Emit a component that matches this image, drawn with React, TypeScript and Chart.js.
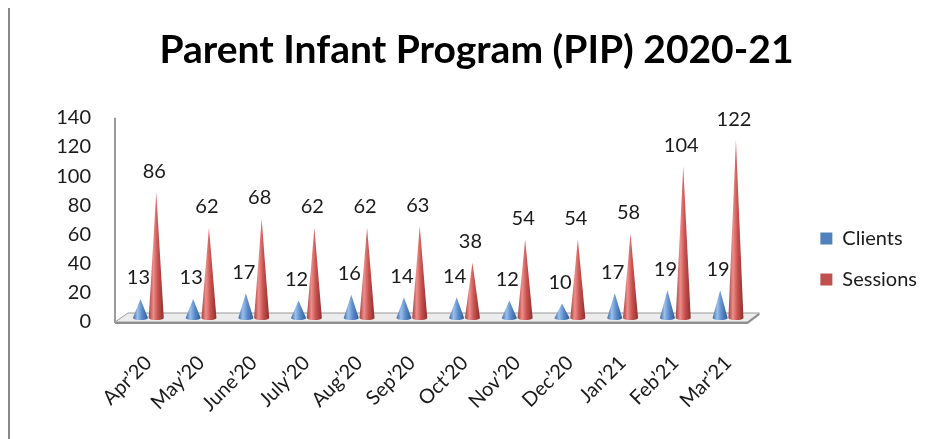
import React, { useEffect, useRef } from "react";
import { Chart, registerables } from "chart.js";

Chart.register(...registerables);

const TITLE = "Parent Infant Program (PIP) 2020-21";
const categories = ["Apr’20", "May’20", "June’20", "July’20", "Aug’20", "Sep’20", "Oct’20", "Nov’20", "Dec’20", "Jan’21", "Feb’21", "Mar’21"];
const clients = [13, 13, 17, 12, 16, 14, 14, 12, 10, 17, 19, 19];
const sessions = [86, 62, 68, 62, 62, 63, 38, 54, 54, 58, 104, 122];
const yTicks = [0, 20, 40, 60, 80, 100, 120, 140];

const FONT = "Lato, 'Noto Sans', sans-serif";
const TEXT = "#1a1a1a";

const coneStops: Record<number, string[]> = {
  0: ["#3d6aa3", "#9cc0ec", "#5b8ccb", "#2f5b93"],
  1: ["#a6403d", "#ee8f8c", "#c9524f", "#8c2f2d"],
};

const conePlugin = {
  id: "cones",
  beforeDatasetsDraw(chart: any) {
    const { ctx, chartArea } = chart;
    const ys = chart.scales.y;
    const L = chartArea.left;
    const R = chartArea.right;
    const yb = ys.getPixelForValue(0);
    const yt = ys.getPixelForValue(140);
    ctx.save();
    ctx.beginPath();
    ctx.moveTo(L - 7, yb + 4);
    ctx.lineTo(L + 6, yb - 5);
    ctx.lineTo(R + 5, yb - 5);
    ctx.lineTo(R - 7, yb + 4);
    ctx.closePath();
    ctx.fillStyle = "#ececec";
    ctx.fill();
    ctx.lineWidth = 1;
    ctx.strokeStyle = "#9a9a9a";
    ctx.stroke();
    ctx.beginPath();
    ctx.moveTo(L - 7, yb + 5);
    ctx.lineTo(R - 7, yb + 5);
    ctx.lineTo(R + 5, yb - 4);
    ctx.lineWidth = 2;
    ctx.strokeStyle = "#8e8e8e";
    ctx.stroke();
    ctx.beginPath();
    ctx.moveTo(L - 7, yb + 5);
    ctx.lineTo(L - 7, yt + 4);
    ctx.lineWidth = 2;
    ctx.strokeStyle = "#9a9a9a";
    ctx.stroke();
    ctx.restore();
  },
  beforeDatasetDraw() {
    return false;
  },
  afterDatasetsDraw(chart: any) {
    const { ctx } = chart;
    chart.data.datasets.forEach((ds: any, di: number) => {
      const meta = chart.getDatasetMeta(di);
      if (meta.hidden) return;
      meta.data.forEach((el: any, i: number) => {
        const { x, y, base, width } = el.getProps(["x", "y", "base", "width"], true);
        const w = width;
        const g = ctx.createLinearGradient(x - w / 2, 0, x + w / 2, 0);
        const st = coneStops[di];
        g.addColorStop(0, st[0]);
        g.addColorStop(0.3, st[1]);
        g.addColorStop(0.6, st[2]);
        g.addColorStop(1, st[3]);
        ctx.save();
        ctx.beginPath();
        ctx.moveTo(x - w / 2, base);
        ctx.lineTo(x, y);
        ctx.lineTo(x + w / 2, base);
        ctx.ellipse(x, base, w / 2, 2, 0, 0, Math.PI, false);
        ctx.closePath();
        ctx.fillStyle = g;
        ctx.fill();
        ctx.restore();
        ctx.save();
        ctx.font = "20px " + FONT;
        ctx.fillStyle = TEXT;
        ctx.textAlign = "center";
        ctx.textBaseline = "middle";
        ctx.fillText(String(ds.data[i]), x - 2, y - 21);
        ctx.restore();
      });
    });
  },
};

export default function App() {
  const ref = useRef<HTMLCanvasElement>(null);
  useEffect(() => {
    if (!ref.current) return;
    const chart = new Chart(ref.current, {
      type: "bar",
      data: {
        labels: categories,
        datasets: [
          { label: "Clients", data: clients, backgroundColor: "#4f81bd", borderWidth: 0 },
          { label: "Sessions", data: sessions, backgroundColor: "#c0504d", borderWidth: 0 },
        ],
      },
      options: {
        responsive: false,
        animation: false,
        maintainAspectRatio: false,
        categoryPercentage: 0.6,
        barPercentage: 0.95,
        layout: { padding: { left: 16, right: 5, top: 0, bottom: 11 } },
        plugins: {
          title: {
            display: true,
            text: TITLE,
            color: "#000",
            font: { family: FONT, size: 39, weight: "bold" },
            padding: { top: 19, bottom: 40 },
          },
          legend: {
            display: true,
            position: "right",
            title: { display: true, text: " ", font: { size: 10 }, padding: { top: 70, bottom: 0 } },
            labels: {
              boxWidth: 12,
              boxHeight: 12,
              padding: 21,
              color: TEXT,
              font: { family: FONT, size: 20 },
            },
          },
          tooltip: { enabled: false },
        },
        scales: {
          x: {
            grid: { display: false },
            border: { display: false },
            ticks: {
              color: TEXT,
              font: { family: FONT, size: 20 },
              minRotation: 45,
              maxRotation: 45,
              padding: 25,
            },
            afterFit: (s: any) => {
              s.height = 110;
            },
          },
          y: {
            min: 0,
            max: 140,
            grid: { display: false },
            border: { display: false },
            afterBuildTicks: (s: any) => {
              s.ticks = yTicks.map((v) => ({ value: v }));
            },
            ticks: {
              color: TEXT,
              font: { family: FONT, size: 20 },
              padding: 23,
              labelOffset: 4,
            },
            afterFit: (s: any) => {
              s.width = 96;
            },
          },
          gap: {
            type: "linear",
            position: "right",
            display: true,
            grid: { display: false },
            border: { display: false },
            ticks: { display: false },
            afterFit: (s: any) => {
              s.width = 45;
            },
          },
        },
      },
      plugins: [conePlugin],
    } as any);
    return () => chart.destroy();
  }, []);
  return (
    <div
      style={{
        marginTop: -2,
        width: 922,
        height: 431,
        borderTop: "2px solid #888",
        borderLeft: "2px solid #888",
        overflow: "hidden",
        background: "#fff",
      }}
    >
      <canvas ref={ref} width={922} height={431} style={{ display: "block" }} />
    </div>
  );
}
